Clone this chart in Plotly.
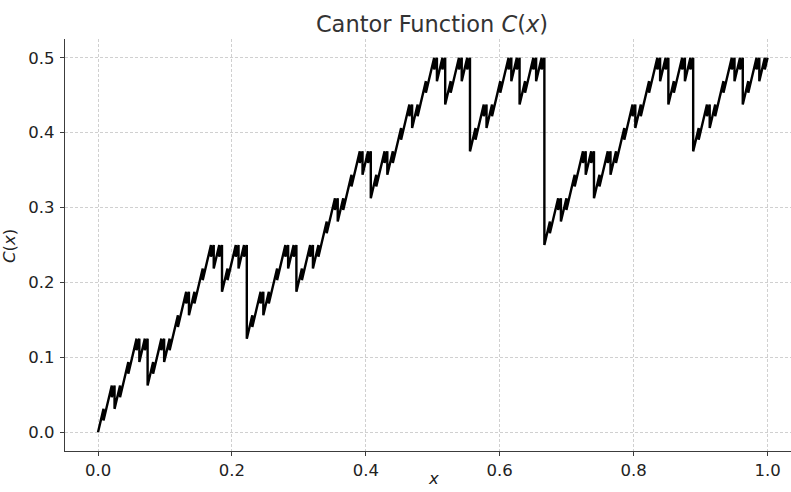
import plotly.graph_objects as go

# Step levels of the curve, in units of 1/64,
# one per ternary sub-interval of width 1/243 (value at start of each sub-interval;
# each sub-interval rises by one unit before the next one begins).
levels_a = [
    0, 1, 1, 2, 3, 3, 2, 3, 3, 4, 5, 5, 6, 7, 7, 6, 7, 7, 4, 5, 5, 6, 7, 7, 6, 7, 7,
    8, 9, 9, 10, 11, 11, 10, 11, 11, 12, 13, 13, 14, 15, 15, 14, 15, 15, 12, 13, 13, 14, 15, 15, 14, 15, 15,
    8, 9, 9, 10, 11, 11, 10, 11, 11, 12, 13, 13, 14, 15, 15, 14, 15, 15, 12, 13, 13, 14, 15, 15, 14, 15, 15,
]
levels_b = [
    16, 17, 17, 18, 19, 19, 18, 19, 19, 20, 21, 21, 22, 23, 23, 22, 23, 23, 20, 21, 21, 22, 23, 23, 22, 23, 23,
    24, 25, 25, 26, 27, 27, 26, 27, 27, 28, 29, 29, 30, 31, 31, 30, 31, 31, 28, 29, 29, 30, 31, 31, 30, 31, 31,
    24, 25, 25, 26, 27, 27, 26, 27, 27, 28, 29, 29, 30, 31, 31, 30, 31, 31, 28, 29, 29, 30, 31, 31, 30, 31, 31,
]
levels_c = list(levels_b)
levels = levels_a + levels_b + levels_c
level_unit = 64
n_steps = len(levels)  # 243

x_tick_vals = [0.0, 0.2, 0.4, 0.6, 0.8, 1.0]
x_tick_text = ["0.0", "0.2", "0.4", "0.6", "0.8", "1.0"]
y_tick_vals = [0.0, 0.1, 0.2, 0.3, 0.4, 0.5]
y_tick_text = ["0.0", "0.1", "0.2", "0.3", "0.4", "0.5"]

xs, ys = [], []
for k, lv in enumerate(levels):
    xs.append(k / n_steps)
    ys.append(lv / level_unit)
    xs.append((k + 1) / n_steps)
    ys.append((lv + 1) / level_unit)

font_family = "DejaVu Sans"
W, H = 791, 492
L, R, T, B = 65, 0, 39, 41
pw = W - L - R
ph = H - T - B

fig = go.Figure()
fig.add_trace(go.Scatter(x=xs, y=ys, mode="lines",
                         line=dict(color="black", width=2.4),
                         hoverinfo="skip", showlegend=False))

axis_common = dict(
    showline=True, linecolor="#3c3c3c", linewidth=1.3,
    ticks="outside", ticklen=4, tickwidth=1.2, tickcolor="#3c3c3c",
    showgrid=True, gridcolor="#d0d0d0", gridwidth=0.8, griddash="3px,2px",
    zeroline=False, mirror=False,
    tickfont=dict(family=font_family, size=16.5, color="#222222"),
)

fig.update_xaxes(range=[-0.0493, 1.035], tickvals=x_tick_vals, ticktext=x_tick_text, **axis_common)
fig.update_yaxes(range=[-0.025, 0.525], tickvals=y_tick_vals, ticktext=y_tick_text,
                 ticklabelstandoff=2, **axis_common)

fig.update_layout(
    width=W, height=H,
    margin=dict(l=L, r=R, t=T, b=B, pad=0),
    plot_bgcolor="white", paper_bgcolor="white",
    title=dict(text="Cantor Function <i>C</i>(<i>x</i>)", x=432 / W, xref="container",
               xanchor="center", y=1 - 24 / H, yref="container", yanchor="middle",
               font=dict(family=font_family, size=22.5, color="#333333")),
    annotations=[
        dict(text="<i>x</i>", x=(433 - L) / pw, y=-(490 - (T + ph)) / ph, xref="paper", yref="paper",
             showarrow=False, xanchor="center", yanchor="bottom",
             font=dict(family=font_family, size=16.5, color="#222222")),
        dict(text="<i>C</i>(<i>x</i>)", x=(9 - L) / pw, y=(T + ph - 246) / ph, xref="paper", yref="paper",
             showarrow=False, xanchor="center", yanchor="middle", textangle=-90,
             font=dict(family=font_family, size=16.5, color="#222222")),
    ],
)

fig.write_html("out.html", config={"displayModeBar": False},
               post_script="document.body.style.margin='0';document.body.style.padding='0';")
